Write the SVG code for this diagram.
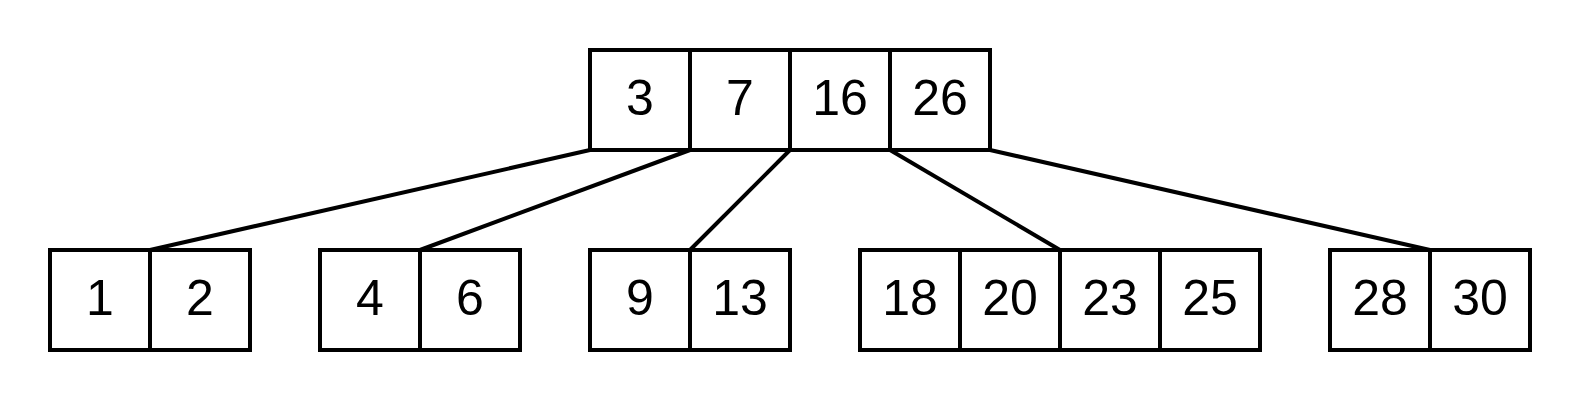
<svg xmlns="http://www.w3.org/2000/svg" width="1580" height="400" viewBox="0 0 1580 400">
<style>
.c{fill:#fff;stroke:#000;stroke-width:4}
.t{font-family:"Liberation Sans",Arial,sans-serif;font-size:50px;text-anchor:middle;fill:#000}
.e{stroke:#000;stroke-width:4;fill:none}
</style>
<rect width="1580" height="400" fill="#fff"/>
<g id="connectors">
<line class="e" x1="590" y1="150" x2="150" y2="250"/>
<line class="e" x1="690" y1="150" x2="420" y2="250"/>
<line class="e" x1="790" y1="150" x2="690" y2="250"/>
<line class="e" x1="890" y1="150" x2="1060" y2="250"/>
<line class="e" x1="990" y1="150" x2="1430" y2="250"/>
</g>
<g id="root">
<rect class="c" x="590" y="50" width="100" height="100"/>
<rect class="c" x="690" y="50" width="100" height="100"/>
<rect class="c" x="790" y="50" width="100" height="100"/>
<rect class="c" x="890" y="50" width="100" height="100"/>
<text class="t" x="640" y="115">3</text>
<text class="t" x="740" y="115">7</text>
<text class="t" x="840" y="115">16</text>
<text class="t" x="940" y="115">26</text>
</g>
<g id="leaf1">
<rect class="c" x="50" y="250" width="100" height="100"/>
<rect class="c" x="150" y="250" width="100" height="100"/>
<text class="t" x="100" y="315">1</text>
<text class="t" x="200" y="315">2</text>
</g>
<g id="leaf2">
<rect class="c" x="320" y="250" width="100" height="100"/>
<rect class="c" x="420" y="250" width="100" height="100"/>
<text class="t" x="370" y="315">4</text>
<text class="t" x="470" y="315">6</text>
</g>
<g id="leaf3">
<rect class="c" x="590" y="250" width="100" height="100"/>
<rect class="c" x="690" y="250" width="100" height="100"/>
<text class="t" x="640" y="315">9</text>
<text class="t" x="740" y="315">13</text>
</g>
<g id="leaf4">
<rect class="c" x="860" y="250" width="100" height="100"/>
<rect class="c" x="960" y="250" width="100" height="100"/>
<rect class="c" x="1060" y="250" width="100" height="100"/>
<rect class="c" x="1160" y="250" width="100" height="100"/>
<text class="t" x="910" y="315">18</text>
<text class="t" x="1010" y="315">20</text>
<text class="t" x="1110" y="315">23</text>
<text class="t" x="1210" y="315">25</text>
</g>
<g id="leaf5">
<rect class="c" x="1330" y="250" width="100" height="100"/>
<rect class="c" x="1430" y="250" width="100" height="100"/>
<text class="t" x="1380" y="315">28</text>
<text class="t" x="1480" y="315">30</text>
</g>
</svg>
